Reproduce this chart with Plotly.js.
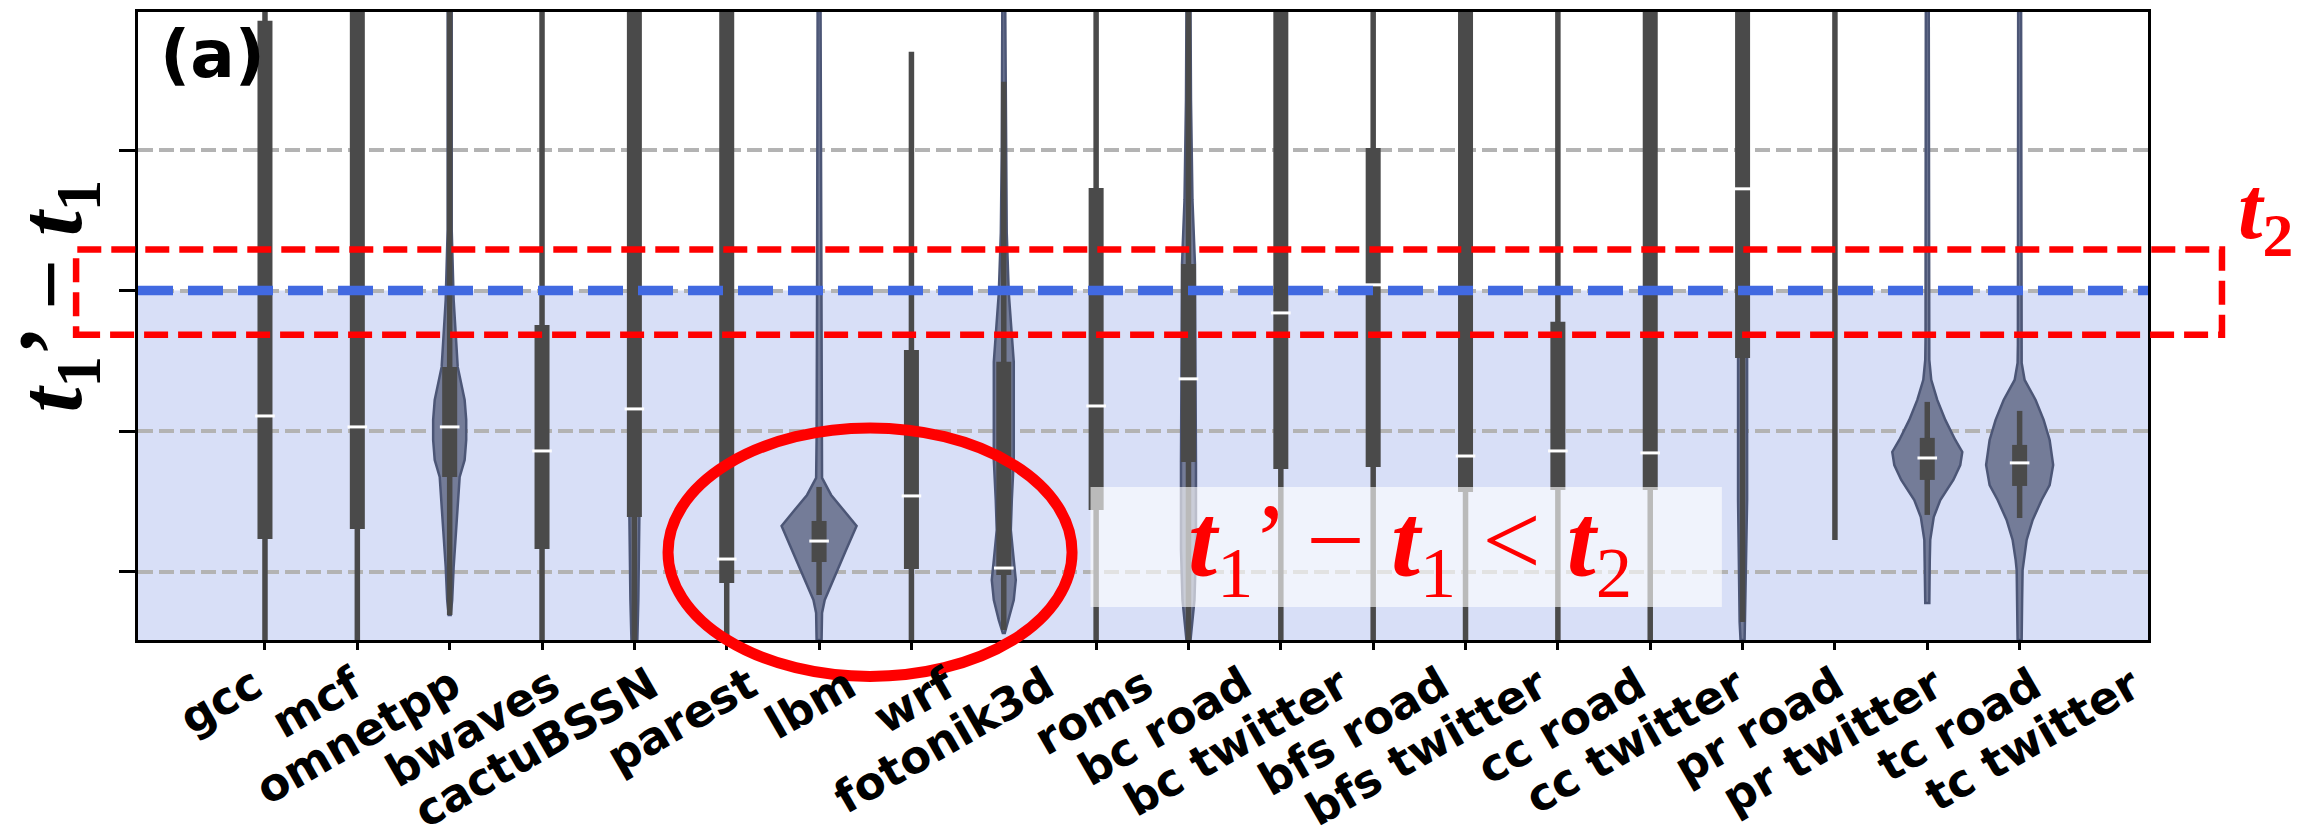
<!DOCTYPE html>
<html><head><meta charset="utf-8">
<script src="https://cdn.plot.ly/plotly-3.0.1.min.js"></script>
<style>html,body{margin:0;padding:0;background:#fff}</style>
</head><body><div id="chart" style="width:2318px;height:836px"></div>
<script>
// ---- data (values in arbitrary units of t1' - t1; gridlines at 0..3, threshold t2 = 2) ----
const categories = ["gcc","mcf","omnetpp","bwaves","cactuBSSN","parest","lbm","wrf","fotonik3d","roms",
  "bc road","bc twitter","bfs road","bfs twitter","cc road","cc twitter","pr road","pr twitter","tc road","tc twitter"];
const whiskerLow  = [-0.6,-0.6,-0.309,-0.6,-0.6,-0.6,-0.166,-0.5,-0.415,-0.6,-0.6,-0.6,-0.6,-0.6,-0.6,-0.6,-0.358,0.226,0.404,0.382];
const q1          = [0.233,0.304,0.674,0.161,0.389,-0.080,0.069,0.019,-0.023,0.439,0.781,0.731,0.745,0.567,0.582,0.582,1.521,4.3,0.653,0.610];
const median      = [1.108,1.030,1.030,0.859,1.158,0.090,0.218,0.539,0.026,1.179,1.372,1.841,2.041,0.823,0.859,0.845,2.724,4.4,0.809,0.774];
const q3          = [3.919,4.3,1.457,1.756,4.3,4.3,0.361,1.578,1.493,2.730,2.189,4.3,3.015,4.3,1.778,4.3,4.3,4.5,0.952,0.902];
const whiskerHigh = [4.6,4.6,4.6,4.6,4.6,4.6,0.603,3.699,3.485,4.6,4.6,4.6,4.6,4.6,4.6,4.6,4.6,4.6,1.208,1.144];
const T2 = 2;
const yTicks = [0,1,2,3];
const yRange = [-0.486, 3.982];
const xRange = [-1.375, 20.39];

// violin outlines: y values and half-widths (category-axis units)
const omnetppY = [4.0,2.432,1.934,1.457,1.222,1.080,0.937,0.795,0.674,0.389,0.033,-0.202,-0.308];
const omnetppW = [0.022,0.022,0.043,0.087,0.162,0.179,0.179,0.162,0.108,0.076,0.043,0.027,0.011];
const cactuY = [4.0,0.389,-0.201,-0.486];
const cactuW = [0.022,0.054,0.043,0.032];
const lbmY = [4.0,1.934,0.937,0.667,0.546,0.439,0.325,0.154,-0.023,-0.201,-0.294,-0.486];
const lbmW = [0.016,0.022,0.027,0.032,0.130,0.265,0.406,0.292,0.178,0.061,0.032,0.027];
const fotonikY = [4.0,3.001,2.410,1.983,1.493,1.080,0.795,0.510,0.297,0.083,-0.059,-0.202,-0.344,-0.436];
const fotonikW = [0.016,0.022,0.032,0.054,0.108,0.108,0.108,0.087,0.076,0.108,0.130,0.108,0.054,0.011];
const bcRoadY = [4.0,3.357,2.645,2.189,0.781,0.154,-0.201,-0.415,-0.486];
const bcRoadW = [0.022,0.027,0.043,0.070,0.081,0.081,0.065,0.032,0.022];
const prRoadY = [4.0,1.521,0.510,-0.358,-0.486];
const prRoadW = [0.022,0.049,0.049,0.032,0.022];
const tcRoadY = [4.0,1.649,1.507,1.365,1.222,1.080,0.937,0.852,0.759,0.653,0.510,0.389,0.226,0.083,-0.223];
const tcRoadW = [0.016,0.019,0.022,0.043,0.108,0.195,0.303,0.379,0.357,0.282,0.141,0.070,0.032,0.027,0.022];
const tcTwitterY = [4.0,1.614,1.485,1.364,1.222,1.080,0.937,0.759,0.617,0.510,0.368,0.226,0.083,0.012,-0.202,-0.486];
const tcTwitterW = [0.016,0.019,0.022,0.054,0.173,0.260,0.325,0.363,0.325,0.238,0.141,0.076,0.043,0.032,0.027,0.022];

const violins = [[2,omnetppY,omnetppW],[4,cactuY,cactuW],[6,lbmY,lbmW],[8,fotonikY,fotonikW],
  [10,bcRoadY,bcRoadW],[16,prRoadY,prRoadW],[18,tcRoadY,tcRoadW],[19,tcTwitterY,tcTwitterW]];

const positions = categories.map((_, i) => i);
const traces = [];
violins.forEach(([idx, Y, W]) => {
  const xs = Y.map((y, k) => idx + W[k]).concat(Y.slice().reverse().map((y, k) => idx - W[W.length - 1 - k]));
  const ys = Y.concat(Y.slice().reverse());
  traces.push({type:'scatter', mode:'lines', x:xs, y:ys, fill:'toself',
    fillcolor:'rgb(116,124,152)', line:{color:'rgb(76,86,118)', width:2.5},
    hoverinfo:'skip', showlegend:false});
});
// whiskers (thin) and inter-quartile boxes (thick), drawn above the violin bodies
const wx = [], wy = [], bx = [], by = [];
positions.forEach(i => {
  wx.push(i, i, null); wy.push(whiskerLow[i], whiskerHigh[i], null);
  bx.push(i, i, null); by.push(q1[i], q3[i], null);
});
traces.push({type:'scatter', mode:'lines', x:wx, y:wy, line:{color:'#4a4a4a', width:5.5},
  hoverinfo:'skip', showlegend:false});
traces.push({type:'scatter', mode:'lines', x:bx, y:by, line:{color:'#4a4a4a', width:15},
  hoverinfo:'skip', showlegend:false});
traces.push({type:'scatter', mode:'markers', x:positions, y:median,
  marker:{symbol:'line-ew', size:14, color:'white', line:{color:'white', width:3}},
  hoverinfo:'skip', showlegend:false});

// tick labels, right-aligned and rotated like the original (placed in paper coordinates)
const xSpan = xRange[1] - xRange[0];
const tickAnnotations = categories.map((c, i) => ({
  x:(i * 1.070 + 0.09 - xRange[0]) / xSpan, xref:'paper', y:-0.024, yref:'paper',
  text:'<b>' + c + '</b>', textangle:-30,
  xanchor:'right', yanchor:'top', showarrow:false, borderpad:0,
  font:{family:'DejaVu Sans', size:45, color:'black'}
}));

const layout = {
  width:2318, height:836,
  margin:{l:138, r:170, t:12, b:196},
  paper_bgcolor:'white', plot_bgcolor:'white', showlegend:false,
  xaxis:{range:xRange, tickvals:positions, showticklabels:false, ticks:'outside', ticklen:7, tickwidth:3,
    tickcolor:'black', showline:true, mirror:true, linewidth:3, linecolor:'black', showgrid:false, zeroline:false},
  yaxis:{range:yRange, tickvals:yTicks, showticklabels:false, ticks:'outside', ticklen:16, tickwidth:3,
    tickcolor:'black', showline:true, mirror:true, linewidth:3, linecolor:'black',
    showgrid:true, gridcolor:'#b3b3b3', gridwidth:4, griddash:'15px,6px', zeroline:false},
  shapes:[
    {type:'rect', xref:'x', yref:'y', x0:xRange[0], x1:xRange[1], y0:yRange[0], y1:T2,
      fillcolor:'#d8dff7', line:{width:0}, layer:'below'},
    {type:'line', xref:'x', yref:'y', x0:xRange[0], x1:xRange[1], y0:T2, y1:T2,
      line:{color:'#4169e1', width:9.5, dash:'35px,15px'}, layer:'above'},
    {type:'rect', xref:'paper', yref:'y', x0:-0.0308, x1:1.0368, y0:T2 - 0.315, y1:T2 + 0.293,
      line:{color:'#ff0000', width:6.5, dash:'24px,10px'}, layer:'above'},
    {type:'circle', xref:'paper', yref:'paper', x0:0.2637, x1:0.4647, y0:-0.058, y1:0.3376,
      line:{color:'#ff0000', width:11}, layer:'above'},
    {type:'rect', xref:'paper', yref:'paper', x0:0.4739, x1:0.788, y0:0.0525, y1:0.2436,
      fillcolor:'rgba(255,255,255,0.62)', line:{width:0}, layer:'above'}
  ],
  annotations: tickAnnotations.concat([
    {xref:'paper', yref:'paper', x:0.0373, y:0.933, xanchor:'center', yanchor:'middle', showarrow:false,
      text:'<b>(a)</b>', font:{family:'DejaVu Sans', size:66, color:'black'}},
    {xref:'paper', yref:'paper', x:-0.040, y:0.548, xanchor:'center', yanchor:'middle', showarrow:false, textangle:-90,
      text:'<b><i>t</i><sub>1</sub>’ − <i>t</i><sub>1</sub></b>', font:{family:'Liberation Serif', size:90, color:'black'}},
    {xref:'paper', yref:'paper', x:1.0587, y:0.677, xanchor:'center', yanchor:'middle', showarrow:false,
      text:'<b><i>t</i><sub>2</sub></b>', font:{family:'Liberation Serif', size:88, color:'#ff0000'}},
    {xref:'paper', yref:'paper', x:0.633, y:0.148, xanchor:'center', yanchor:'middle', showarrow:false,
      text:'<b><i>t</i></b><sub>1</sub>’ − <b><i>t</i></b><sub>1</sub> &lt; <b><i>t</i></b><sub>2</sub>',
      font:{family:'Liberation Serif', size:104, color:'#ff0000'}}
  ])
};
Plotly.newPlot('chart', traces, layout, {displayModeBar:false, staticPlot:true});
</script></body></html>
